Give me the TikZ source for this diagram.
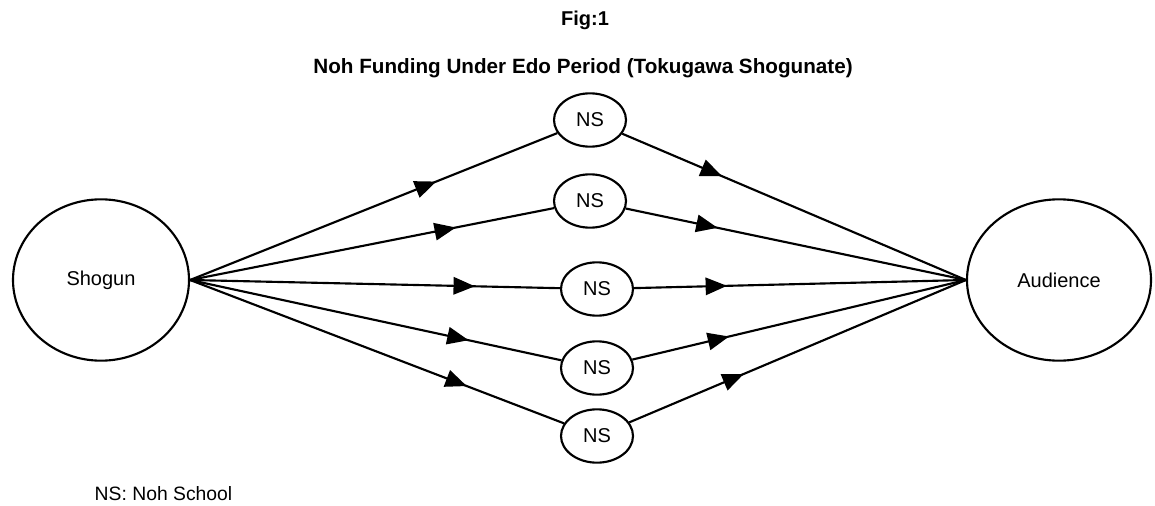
\documentclass[tikz,border=0pt]{standalone}
\usepackage{fontspec}
\setmainfont{Liberation Sans}
\usepackage{tikz}
\usetikzlibrary{positioning,arrows.meta}
\usetikzlibrary{decorations.markings}
\tikzset{
	actor/.style={draw=black, line width=1.6pt, ellipse, minimum width=#1, minimum height=121pt, font=\fontsize{15}{18}\selectfont},
	school/.style={draw=black, line width=1.6pt, ellipse, minimum width=54pt, minimum height=40pt, inner sep=0pt, font=\fontsize{15}{18}\selectfont},
	flow/.style={line width=1.6pt, draw=black, postaction={decorate}, decoration={markings,mark=at position #1 with {\arrow[black]{Triangle[length=16pt,width=13pt]}}}}
}
\usetikzlibrary{shapes.geometric}

\begin{document}
\begin{tikzpicture}[x=0.75pt,y=-0.75pt]
		\useasboundingbox (0,0) rectangle (1155,506);

		\node[font=\bfseries\fontsize{15}{18}\selectfont] (fig) at (585,20) {Fig:1};
		\node[font=\bfseries\fontsize{15.5}{18}\selectfont] (title) at (583,68) {Noh Funding Under Edo Period (Tokugawa Shogunate)};

		\node[actor=132pt] (shogun) at (101,280) {Shogun};
		\node[actor=138pt] (audience) at (1059,280) {Audience};

		\node[school] (ns1) at (590,120) {NS};
		\node[school] (ns2) at (590,201) {NS};
		\node[school] (ns3) at (597,289) {NS};
		\node[school] (ns4) at (597,368) {NS};
		\node[school] (ns5) at (597,436) {NS};

		\node[anchor=west, font=\fontsize{14.5}{18}\selectfont] (key) at (90,494) {NS: Noh School};

		\draw[flow=0.67] (shogun.east) -- (ns1);
		\draw[flow=0.73] (shogun.east) -- (ns2);
		\draw[flow=0.77] (shogun.east) -- (ns3);
		\draw[flow=0.75] (shogun.east) -- (ns4);
		\draw[flow=0.74] (shogun.east) -- (ns5);

		\draw[flow=0.29] (ns1) -- (audience.west);
		\draw[flow=0.27] (ns2) -- (audience.west);
		\draw[flow=0.28] (ns3) -- (audience.west);
		\draw[flow=0.29] (ns4) -- (audience.west);
		\draw[flow=0.34] (ns5) -- (audience.west);
	\end{tikzpicture}
\end{document}
